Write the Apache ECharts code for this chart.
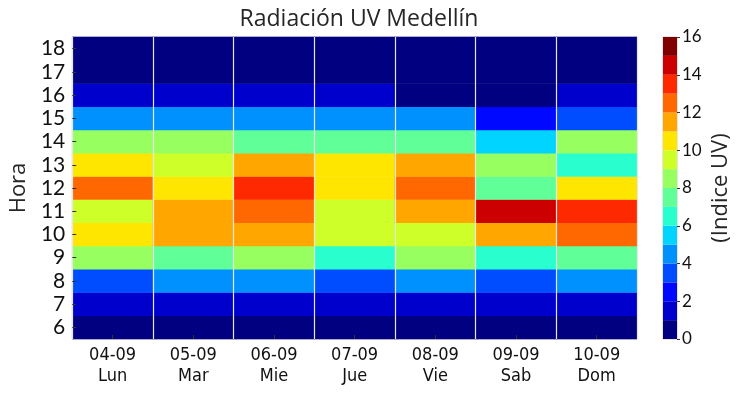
<!DOCTYPE html>
<html>
<head>
<meta charset="utf-8">
<script src="https://cdn.jsdelivr.net/npm/echarts@6/dist/echarts.min.js"></script>
<style>html,body{margin:0;padding:0;background:#fff}#c{width:743px;height:395px}</style>
</head>
<body>
<div id="c"></div>
<script>
const days = ['04-09\nLun', '05-09\nMar', '06-09\nMie', '07-09\nJue', '08-09\nVie', '09-09\nSab', '10-09\nDom'];
const hours = ['6', '7', '8', '9', '10', '11', '12', '13', '14', '15', '16', '17', '18'];
// UV index per day, hours 6..18
const uvLun = [0.2, 1.5, 3.6, 8.4, 10.5, 9.6, 12.3, 10.4, 8.2, 4.3, 1.2, 0.3, 0.1];
const uvMar = [0.2, 1.4, 4.5, 7.5, 11.4, 11.6, 10.5, 9.5, 8.3, 4.4, 1.3, 0.3, 0.1];
const uvMie = [0.2, 1.5, 4.4, 8.5, 11.5, 12.4, 13.5, 11.4, 7.6, 4.5, 1.2, 0.3, 0.1];
const uvJue = [0.2, 1.4, 3.5, 6.5, 9.4, 9.5, 10.6, 10.4, 7.5, 4.3, 1.1, 0.3, 0.1];
const uvVie = [0.2, 1.5, 4.3, 8.4, 9.6, 11.5, 12.6, 11.3, 7.5, 4.4, 0.8, 0.2, 0.1];
const uvSab = [0.2, 1.4, 3.6, 6.4, 11.5, 14.5, 7.6, 8.4, 5.5, 2.5, 0.7, 0.2, 0.1];
const uvDom = [0.2, 1.4, 4.5, 7.4, 12.5, 13.6, 10.4, 6.5, 8.4, 3.5, 1.1, 0.3, 0.1];
const uvByDay = [uvLun, uvMar, uvMie, uvJue, uvVie, uvSab, uvDom];
// Discrete jet colormap, 16 levels (0..16)
const levelColors = ['#000080', '#0000cd', '#0008ff', '#004cff', '#0091ff', '#00d4ff', '#29ffce', '#60ff97',
  '#97ff60', '#ceff29', '#ffe600', '#ffa700', '#ff6800', '#ff2900', '#cd0000', '#800000'];

const heatData = [];
uvByDay.forEach((arr, d) => arr.forEach((v, h) => heatData.push([d, h, v])));

const pieces = levelColors.map((c, i) => ({ gte: i, lt: i + 1, color: c }));

const txt = '#262626';
const fontA = 'Lato';
const fontB = 'DejaVu Sans Condensed';
const fontT = 'Open Sans';

const cbSeries = levelColors.map((c, i) => ({
  type: 'bar', xAxisIndex: 1, yAxisIndex: 1, stack: 'cb', barWidth: '100%',
  data: [1], itemStyle: { color: c }, silent: true, animation: false
}));

const chart = echarts.init(document.getElementById('c'), null, { renderer: 'canvas' });
chart.setOption({
  animation: false,
  backgroundColor: '#fff',
  textStyle: { fontFamily: fontA },
  title: {
    text: 'Radiación UV Medellín', left: 354, top: 3, textAlign: 'center',
    textStyle: { fontFamily: fontT, fontSize: 23, fontWeight: 'normal', color: txt }
  },
  grid: [
    { left: 71, top: 37, width: 566, height: 302, show: true, borderColor: '#cccccc', borderWidth: 1, backgroundColor: 'transparent' },
    { left: 663, top: 37, width: 14, height: 302, show: true, borderColor: '#cccccc', borderWidth: 1 }
  ],
  visualMap: {
    type: 'piecewise', show: false, seriesIndex: 0, dimension: 2, pieces: pieces
  },
  xAxis: [
    {
      type: 'category', data: days, gridIndex: 0, z: 5,
      axisLine: { show: false },
      axisTick: { show: true, inside: true, alignWithLabel: true, length: 4, lineStyle: { color: '#333' } },
      axisLabel: { fontSize: 18, lineHeight: 21, color: '#111', margin: 6, fontFamily: fontB },
      splitLine: { show: true, lineStyle: { color: '#e6e6e6', width: 1.2 } }
    },
    { type: 'category', data: ['cb'], gridIndex: 1, show: false }
  ],
  yAxis: [
    {
      type: 'category', data: hours, gridIndex: 0, z: 5,
      name: 'Hora', nameLocation: 'middle', nameGap: 33, nameRotate: 90,
      nameTextStyle: { fontSize: 22, color: txt, fontFamily: fontT },
      axisLine: { show: false },
      axisTick: { show: true, inside: true, alignWithLabel: true, length: 4, lineStyle: { color: '#333' } },
      axisLabel: { fontSize: 21, color: '#111', margin: 7, fontFamily: fontA, interval: 0 },
      splitLine: { show: false }
    },
    {
      type: 'value', gridIndex: 1, min: 0, max: 16, interval: 2, position: 'right',
      name: '(Indice UV)', nameLocation: 'middle', nameGap: 33, nameRotate: 90,
      nameTextStyle: { fontSize: 22, color: txt, fontFamily: fontT },
      axisLine: { show: false },
      axisTick: { show: true, inside: false, length: 3, lineStyle: { color: '#333' } },
      axisLabel: { fontSize: 17, color: '#111', margin: 5, fontFamily: fontA },
      splitLine: { show: false }
    }
  ],
  series: [
    {
      type: 'heatmap', data: heatData, xAxisIndex: 0, yAxisIndex: 0,
      itemStyle: { borderWidth: 0 }, emphasis: { disabled: true }
    }
  ].concat(cbSeries)
});
</script>
</body>
</html>
